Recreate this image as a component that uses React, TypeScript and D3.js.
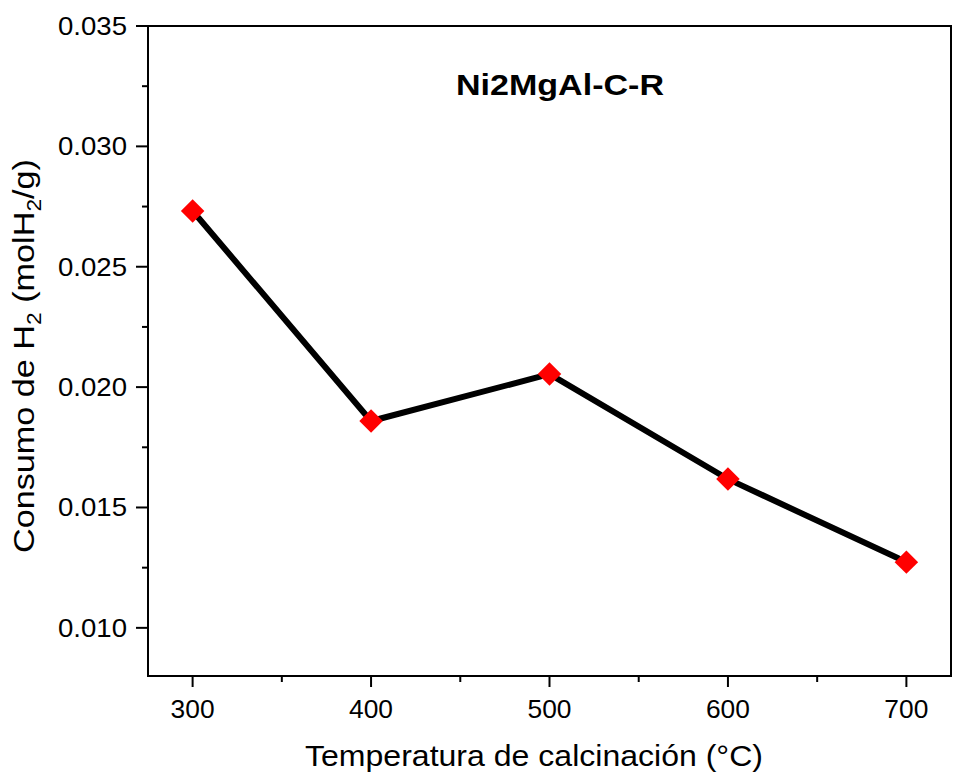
import React from "react";
import * as d3 from "d3";

const temps = [300, 400, 500, 600, 700];
const consumo = [0.02732, 0.01859, 0.02054, 0.01618, 0.01273];
const xTicks = [300, 400, 500, 600, 700];
const yTicks = [0.01, 0.015, 0.02, 0.025, 0.03, 0.035];
const title = "Ni2MgAl-C-R";

const W = 953, H = 776;
const left = 148, right = 951, top = 26, bottom = 676;
const font = "'Liberation Sans', Arial, sans-serif";

export default function App() {
  const x = d3.scaleLinear().domain([275, 725]).range([left, right]);
  const y = d3.scaleLinear().domain([0.008, 0.035]).range([bottom, top]);
  const xMinor = d3.range(250, 751, 50).filter((v) => v > 275 && v < 725 && v % 100 !== 0);
  const yMinor = d3.range(0.0075, 0.035, 0.005).map((v) => +v.toFixed(4)).filter((v) => v > 0.008 && v < 0.035);
  const pts = temps.map((t, i) => [x(t), y(consumo[i])] as [number, number]);
  const gap = 9;
  const segs = pts.slice(1).map((p, i) => {
    const a = pts[i];
    const dx = p[0] - a[0], dy = p[1] - a[1];
    const L = Math.hypot(dx, dy);
    const ux = dx / L, uy = dy / L;
    return [a[0] + ux * gap, a[1] + uy * gap, p[0] - ux * gap, p[1] - uy * gap];
  });
  return (
    <svg width={W} height={H} style={{ position: "absolute", left: 0, top: 0 }}>
      <rect width={W} height={H} fill="#fff" />
      {segs.map((s, i) => (
        <line key={i} x1={s[0]} y1={s[1]} x2={s[2]} y2={s[3]} stroke="#000" strokeWidth={6} strokeLinecap="round" />
      ))}
      {pts.map((p, i) => (
        <rect key={i} x={-8.3} y={-8.3} width={16.6} height={16.6} fill="#ff0000" transform={`translate(${p[0]},${p[1]}) rotate(45)`} />
      ))}
      <rect x={left} y={top} width={right - left} height={bottom - top} fill="none" stroke="#000" strokeWidth={2} />
      {xTicks.map((t) => (
        <g key={t}>
          <line x1={x(t)} x2={x(t)} y1={bottom} y2={bottom + 11} stroke="#000" strokeWidth={2} />
          <text x={x(t)} y={718} textAnchor="middle" fontFamily={font} fontSize={26} textLength={44} lengthAdjust="spacingAndGlyphs" fill="#000">{t}</text>
        </g>
      ))}
      {xMinor.map((t) => (
        <line key={t} x1={x(t)} x2={x(t)} y1={bottom} y2={bottom + 6} stroke="#000" strokeWidth={2} />
      ))}
      {yTicks.map((t) => (
        <g key={t}>
          <line x1={left - 12} x2={left} y1={y(t)} y2={y(t)} stroke="#000" strokeWidth={2} />
          <text x={127} y={y(t) + 9} textAnchor="end" fontFamily={font} fontSize={26} textLength={69} lengthAdjust="spacingAndGlyphs" fill="#000">{t.toFixed(3)}</text>
        </g>
      ))}
      {yMinor.map((t) => (
        <line key={t} x1={left - 6} x2={left} y1={y(t)} y2={y(t)} stroke="#000" strokeWidth={2} />
      ))}
      <text x={560} y={95} textAnchor="middle" fontFamily={font} fontSize={30} fontWeight="bold" textLength={208} lengthAdjust="spacingAndGlyphs" fill="#000">{title}</text>
      <text x={534} y={766} textAnchor="middle" fontFamily={font} fontSize={29} textLength={458} lengthAdjust="spacingAndGlyphs" fill="#000">Temperatura de calcinación (°C)</text>
      <text transform="translate(34,356) rotate(-90) scale(1.14,1)" textAnchor="middle" fontFamily={font} fontSize={30} fill="#000">
        Consumo de H<tspan dy={7} fontSize={20}>2</tspan><tspan dy={-7}> (molH</tspan><tspan dy={7} fontSize={20}>2</tspan><tspan dy={-7}>/g)</tspan>
      </text>
    </svg>
  );
}
